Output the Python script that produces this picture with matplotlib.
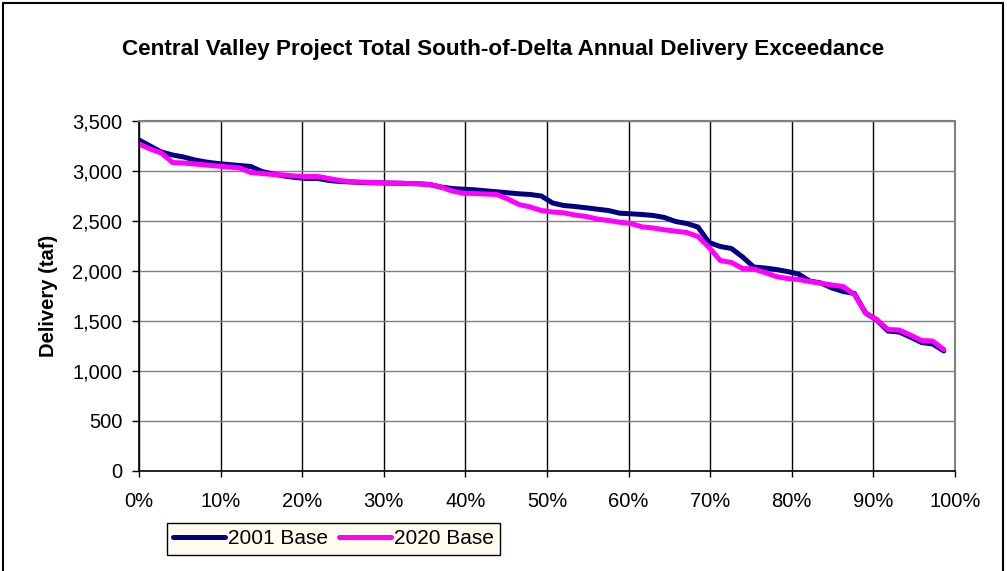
import numpy as np
import matplotlib.pyplot as plt
from matplotlib.patches import Rectangle
from matplotlib.ticker import FuncFormatter, MultipleLocator

plt.rcParams['font.family'] = ['Liberation Sans', 'DejaVu Sans']

# ---------------------------------------------------------------
# data: sorted annual deliveries (taf), 73 years each
# ---------------------------------------------------------------
base_2001 = [3310, 3250, 3190, 3160, 3140, 3110, 3090, 3075, 3065, 3055,
             3045, 2995, 2970, 2950, 2935, 2925, 2925, 2905, 2895, 2890,
             2885, 2882, 2880, 2878, 2875, 2872, 2865, 2840, 2825, 2818,
             2812, 2802, 2792, 2782, 2772, 2765, 2750, 2680, 2655, 2645,
             2632, 2618, 2605, 2578, 2572, 2565, 2555, 2535, 2495, 2475,
             2440, 2285, 2245, 2225, 2140, 2040, 2030, 2015, 1995, 1970,
             1900, 1880, 1830, 1795, 1775, 1580, 1510, 1400, 1390, 1340,
             1285, 1270, 1200]
base_2020 = [3270, 3220, 3180, 3085, 3080, 3070, 3060, 3050, 3040, 3030,
             2985, 2975, 2965, 2960, 2950, 2945, 2945, 2925, 2905, 2893,
             2888, 2885, 2880, 2878, 2876, 2872, 2865, 2840, 2800, 2778,
             2775, 2770, 2765, 2720, 2665, 2640, 2605, 2590, 2582, 2560,
             2545, 2520, 2505, 2488, 2475, 2442, 2430, 2412, 2398, 2385,
             2345, 2235, 2105, 2085, 2025, 2020, 1985, 1945, 1925, 1915,
             1895, 1878, 1860, 1845, 1765, 1580, 1515, 1415, 1410, 1360,
             1305, 1300, 1215]

n = len(base_2001)
exceed = np.arange(n) / n
labels = ["2001 Base", "2020 Base"]
colors = ["#000080", "#FF00FF"]

# ---------------------------------------------------------------
# figure
# ---------------------------------------------------------------
W, H = 1007, 571
fig = plt.figure(figsize=(W / 100, H / 100), dpi=100)
fig.patches.append(Rectangle((3 / W, -0.05), 1000 / W, 1.05 - 3 / H,
                             transform=fig.transFigure, fill=False,
                             edgecolor="black", linewidth=1.5))

ax = fig.add_axes([139 / W, (H - 471) / H, (955 - 139) / W, 350 / H])

for vals, lab, col in zip([base_2001, base_2020], labels, colors):
    ax.plot(exceed, vals, color=col, linewidth=3.6, label=lab,
            solid_joinstyle="round", solid_capstyle="round")

ax.set_xlim(0, 1)
ax.set_ylim(0, 3500)
ax.xaxis.set_major_locator(MultipleLocator(0.1))
ax.yaxis.set_major_locator(MultipleLocator(500))
ax.xaxis.set_major_formatter(FuncFormatter(lambda v, p: f"{v * 100:.0f}%"))
ax.yaxis.set_major_formatter(FuncFormatter(lambda v, p: f"{v:,.0f}"))
ax.tick_params(axis="both", labelsize=14.5, direction="out", width=1,
               color="black")
ax.tick_params(axis="y", length=5, pad=7)
ax.tick_params(axis="x", length=4, pad=11)

ax.grid(axis="y", color="#808080", linewidth=1)
ax.grid(axis="x", color="black", linewidth=1)
ax.set_axisbelow(True)
for side in ["top", "right"]:
    ax.spines[side].set_color("#808080")
    ax.spines[side].set_linewidth(1.5)
for side in ["left", "bottom"]:
    ax.spines[side].set_color("black")
    ax.spines[side].set_linewidth(1.2)

ax.set_ylabel("Delivery (taf)", fontsize=14.5, fontweight="bold", labelpad=10)
fig.text(0.5, 1 - 49 / H,
         "Central Valley Project Total South-of-Delta Annual Delivery Exceedance",
         ha="center", va="center", fontsize=16.2, fontweight="bold")

leg = ax.legend(loc="center left", bbox_to_anchor=(167 / W, 1 - 539 / H),
                bbox_transform=fig.transFigure, ncol=2, frameon=True,
                fancybox=False, fontsize=15, handlelength=2.5,
                handletextpad=0.15, columnspacing=0.5, borderpad=0.3,
                borderaxespad=0)
leg.get_frame().set_facecolor("#FFFBF0")
leg.get_frame().set_edgecolor("black")
leg.get_frame().set_linewidth(1)
leg.get_frame().set_alpha(1)

fig.savefig("out.png", dpi=100)
